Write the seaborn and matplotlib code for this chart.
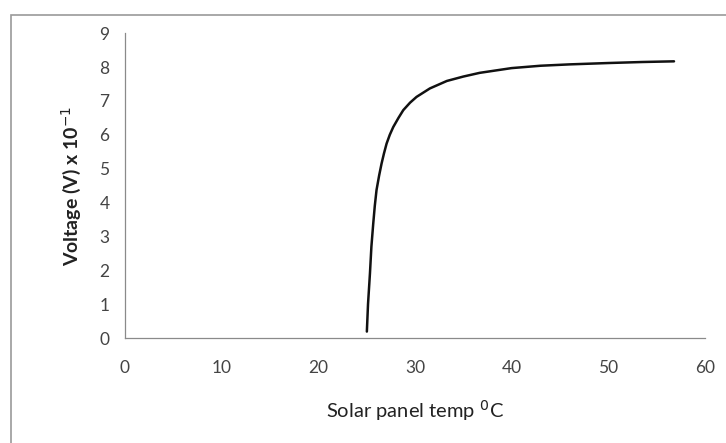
import matplotlib
matplotlib.use("Agg")
import matplotlib.pyplot as plt
import matplotlib.patches as mpatches
import pandas as pd
import seaborn as sns

# values
temp = [25.03, 25.15, 25.35, 25.5, 25.69, 25.85, 26.03, 26.3, 26.55, 26.8, 27.07, 27.4,
        27.76, 28.3, 28.8, 29.5, 30.17, 31.55, 33.3, 35.0, 36.7, 40.0, 43.0, 46.0,
        50.0, 53.5, 56.8]
voltage = [0.19, 1.0, 1.91, 2.7, 3.38, 3.9, 4.37, 4.8, 5.15, 5.45, 5.74, 6.0,
           6.23, 6.5, 6.73, 6.95, 7.12, 7.37, 7.59, 7.72, 7.83, 7.97, 8.04, 8.08,
           8.12, 8.15, 8.17]
x_ticks = [0, 10, 20, 30, 40, 50, 60]
y_ticks = [0, 1, 2, 3, 4, 5, 6, 7, 8, 9]

df = pd.DataFrame({"temp": temp, "voltage": voltage})

sns.set_theme(style="white")
plt.rcParams["font.family"] = ["Lato", "DejaVu Sans"]

fig = plt.figure(figsize=(7.26, 4.43), dpi=100)
ax = fig.add_axes([0.172, 0.237, 0.799, 0.688])

sns.lineplot(data=df, x="temp", y="voltage", color="#111111", linewidth=1.8,
             sort=False, estimator=None, ax=ax)

ax.set_xlim(0, 60)
ax.set_ylim(0, 9)
ax.set_xticks(x_ticks)
ax.set_yticks(y_ticks)
ax.tick_params(axis="both", direction="out", length=4, width=0.8, color="#8a8a8a",
               labelsize=12.5, labelcolor="#444444", pad=7)
ax.tick_params(axis="x", pad=12)

for side in ("top", "right"):
    ax.spines[side].set_visible(False)
for side in ("left", "bottom"):
    ax.spines[side].set_color("#8a8a8a")
    ax.spines[side].set_linewidth(0.9)

ax.set_xlabel("Solar panel temp $^{0}$C", fontsize=14.5, color="#222222", labelpad=16)
ax.set_ylabel("Voltage (V) x 10$^{-1}$", fontsize=14, fontweight="bold", color="#222222", labelpad=12)

border = mpatches.Rectangle((0.015, -0.02), 1.0, 0.986, transform=fig.transFigure,
                            fill=False, edgecolor="#9a9a9a", linewidth=1.2)
fig.patches.append(border)

fig.savefig("out.png", dpi=100)
